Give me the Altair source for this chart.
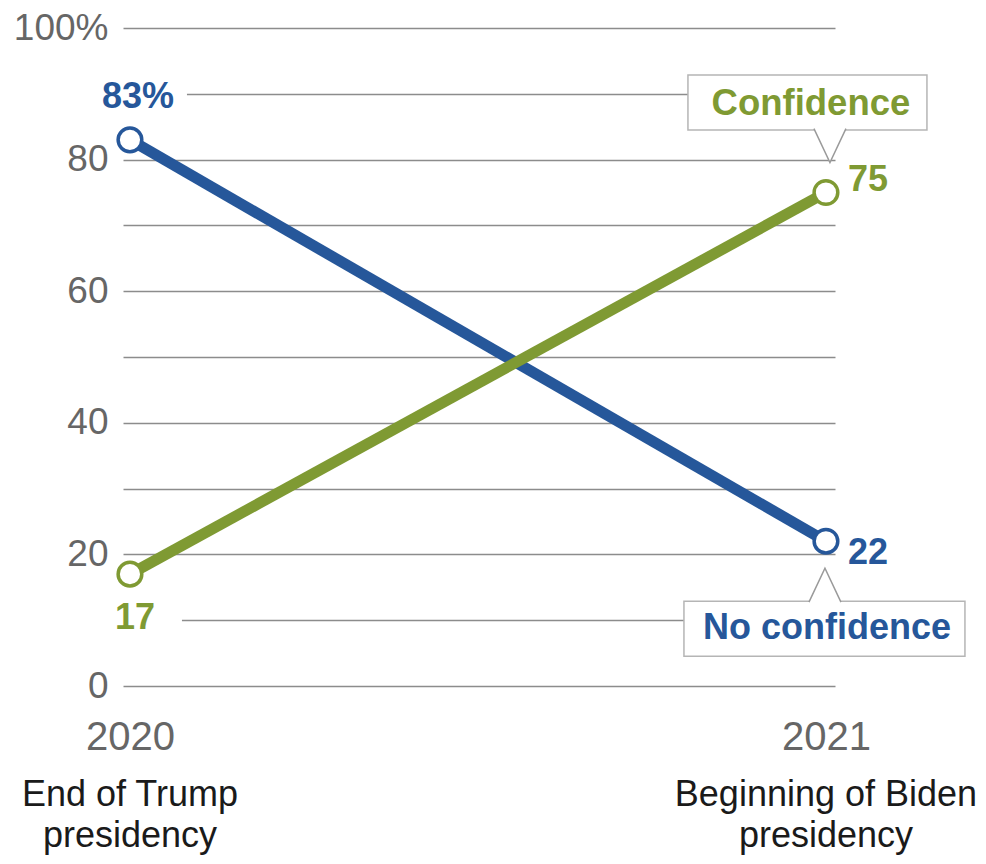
import altair as alt
import pandas as pd

# ---- data ----
years = [2020, 2021]
series_names = ["No confidence", "Confidence"]
no_confidence = [83, 22]
confidence = [17, 75]
value_labels_no = ["83%", "22"]
value_labels_conf = ["17", "75"]
period_labels = ["End of Trump\npresidency", "Beginning of Biden\npresidency"]

BLUE = "#26579a"
GREEN = "#7f9a33"
GRID = "#8c8c8c"
FONT = "Liberation Sans"

rows = []
for i, y in enumerate(years):
    rows.append({"year": y, "series": "No confidence", "value": no_confidence[i], "label": value_labels_no[i]})
    rows.append({"year": y, "series": "Confidence", "value": confidence[i], "label": value_labels_conf[i]})
df = pd.DataFrame(rows)
periods = pd.DataFrame({"year": years, "period": period_labels})

X = alt.X(
    "year:Q",
    scale=alt.Scale(domain=[2019.99, 2021.013], nice=False, zero=False),
    axis=alt.Axis(
        values=years, format="d", title=None, grid=False, domain=False, ticks=False,
        labelFontSize=40, labelColor="#666666", labelPadding=31, labelFont=FONT,
    ),
)
Y = alt.Y(
    "value:Q",
    scale=alt.Scale(domain=[0, 100], nice=False),
    axis=alt.Axis(
        values=list(range(0, 101, 10)), title=None, domain=False, ticks=False,
        labelExpr="datum.value % 20 == 0 ? (datum.value == 100 ? '100%' : datum.label) : ''",
        labelFontSize=37, labelColor="#666666", labelPadding=15, labelFont=FONT,
        grid=True, gridColor=GRID, gridWidth=1.6,
    ),
)
C = alt.Color("series:N", scale=alt.Scale(domain=["Confidence", "No confidence"], range=[GREEN, BLUE]), legend=None)

base = alt.Chart(df).encode(x=X, y=Y)

def sel(series, year):
    return (alt.datum.series == series) & (alt.datum.year == year)

# white patches behind the start labels (hide gridline)
patch_83 = base.transform_filter(sel("No confidence", 2020)).mark_rect(
    fill="white", xOffset=-8, x2Offset=57, yOffset=-57, y2Offset=-30
).encode(x2=alt.X2("year"), y2=alt.Y2("value"))
patch_17 = base.transform_filter(sel("Confidence", 2020)).mark_rect(
    fill="white", xOffset=-8, x2Offset=52, yOffset=32, y2Offset=57
).encode(x2=alt.X2("year"), y2=alt.Y2("value"))

lines = base.mark_line(strokeWidth=11, strokeCap="butt").encode(color=C, detail="series:N")
points = base.mark_point(filled=True, fill="white", size=560, strokeWidth=3.5, opacity=1).encode(stroke=C)

def vlabel(series, year, color, **kw):
    return base.transform_filter(sel(series, year)).mark_text(
        font=FONT, fontSize=36, fontWeight="bold", color=color, baseline="middle", **kw
    ).encode(text="label:N")

lab83 = vlabel("No confidence", 2020, BLUE, align="center", dx=8, dy=-43)
lab17 = vlabel("Confidence", 2020, GREEN, align="center", dx=5, dy=44)
lab75 = vlabel("Confidence", 2021, GREEN, align="left", dx=22, dy=-13)
lab22 = vlabel("No confidence", 2021, BLUE, align="left", dx=22, dy=12)

# callout boxes
box_conf = base.transform_filter(sel("Confidence", 2021)).mark_rect(
    fill="white", stroke="#b5b5b5", strokeWidth=1.5,
    xOffset=-138, x2Offset=101, yOffset=-117.5, y2Offset=-62.5,
).encode(x2=alt.X2("year"), y2=alt.Y2("value"))
tri_conf = base.transform_filter(sel("Confidence", 2021)).mark_point(
    shape="M-1,-1.12L0,1L1,-1.12", filled=True, fill="white", stroke="#9a9a9a",
    strokeWidth=1.5, size=1024, opacity=1, xOffset=4, yOffset=-46,
)
txt_conf = base.transform_filter(sel("Confidence", 2021)).mark_text(
    font=FONT, fontSize=36.5, fontWeight="bold", color=GREEN, align="center", baseline="middle",
    dx=-15, dy=-89,
).encode(text="series:N")

box_no = base.transform_filter(sel("No confidence", 2021)).mark_rect(
    fill="white", stroke="#b5b5b5", strokeWidth=1.5,
    xOffset=-142, x2Offset=139, yOffset=60, y2Offset=115,
).encode(x2=alt.X2("year"), y2=alt.Y2("value"))
tri_no = base.transform_filter(sel("No confidence", 2021)).mark_point(
    shape="M-1,1.12L0,-1L1,1.12", filled=True, fill="white", stroke="#9a9a9a",
    strokeWidth=1.5, size=1024, opacity=1, xOffset=-1, yOffset=43,
)
txt_no = base.transform_filter(sel("No confidence", 2021)).mark_text(
    font=FONT, fontSize=36, fontWeight="bold", color=BLUE, align="center", baseline="middle",
    dx=1, dy=87,
).encode(text="series:N")

period_text = alt.Chart(periods).mark_text(
    font=FONT, fontSize=36, color="#1a1a1a", align="center", baseline="alphabetic",
    lineBreak="\n", lineHeight=41,
).encode(x=X, y=alt.value(778), text="period:N")

chart = alt.layer(
    patch_83, patch_17, lines, points, lab83, lab17, lab75, lab22,
    box_conf, tri_conf, txt_conf, box_no, tri_no, txt_no, period_text,
).properties(
    width=712, height=658,
    autosize=alt.AutoSizeParams(type="none"),
    padding={"left": 115, "top": 20, "right": 143, "bottom": 170},
).configure_view(stroke=None)

chart.save("out.html", embed_options={"renderer": "svg", "actions": False})
